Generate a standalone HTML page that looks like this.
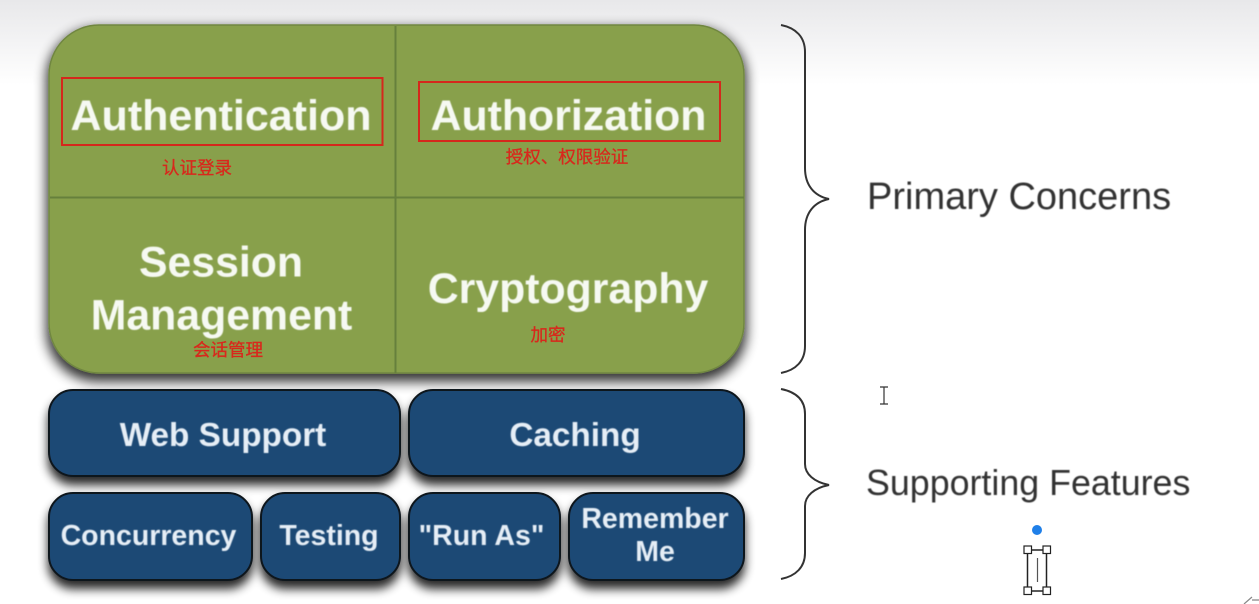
<!DOCTYPE html>
<html>
<head>
<meta charset="utf-8">
<style>
html,body{margin:0;padding:0;background:#fff;}
body{width:1259px;height:604px;overflow:hidden;position:relative;}
svg{position:absolute;left:0;top:0;}
text{font-family:"Liberation Sans","Noto Sans CJK SC",sans-serif;}
.w{font-weight:bold;fill:#f6f9f2;text-anchor:middle;}
.b{font-weight:bold;fill:#e6eef6;text-anchor:middle;}
.r{fill:#d8281c;stroke:#d8281c;stroke-width:0.3px;text-anchor:middle;font-size:17.5px;font-family:"Noto Sans CJK SC","Liberation Sans",sans-serif;}
.d{fill:#333;}
</style>
</head>
<body>
<svg width="1259" height="604" viewBox="0 0 1259 604" xmlns="http://www.w3.org/2000/svg">
<defs>
<linearGradient id="top" x1="0" y1="0" x2="0" y2="1">
<stop offset="0" stop-color="#e8e8ea"/>
<stop offset="1" stop-color="#ffffff"/>
</linearGradient>
<filter id="s" x="-10%" y="-10%" width="120%" height="125%">
<feMorphology in="SourceAlpha" operator="dilate" radius="2"/>
<feGaussianBlur stdDeviation="6"/>
<feOffset dx="0" dy="6"/>
<feComponentTransfer><feFuncA type="linear" slope="0.8"/></feComponentTransfer>
<feMerge><feMergeNode/><feMergeNode in="SourceGraphic"/></feMerge>
</filter>
<filter id="s2" x="-10%" y="-15%" width="120%" height="140%">
<feGaussianBlur in="SourceAlpha" stdDeviation="5"/>
<feOffset dx="0" dy="8"/>
<feComponentTransfer><feFuncA type="linear" slope="0.85"/></feComponentTransfer>
<feMerge><feMergeNode/><feMergeNode in="SourceGraphic"/></feMerge>
</filter>
<filter id="soft"><feGaussianBlur stdDeviation="0.6"/></filter>
</defs>

<rect x="0" y="0" width="1259" height="85" fill="url(#top)"/>

<rect x="49" y="25" width="695" height="348" rx="50" ry="50" fill="#88a04c" stroke="#6f8640" stroke-width="1.5" filter="url(#s)"/>
<line x1="395.500" y1="26" x2="395.500" y2="373" stroke="#66803c" stroke-width="2"/>
<line x1="50" y1="197.500" x2="744" y2="197.500" stroke="#66803c" stroke-width="2"/>

<g filter="url(#soft)">
<text class="w" x="221" y="130" font-size="43">Authentication</text>
<text class="w" x="568.500" y="130" font-size="42.800">Authorization</text>
<text class="w" x="221" y="276.500" font-size="42.800">Session</text>
<text class="w" x="221.500" y="329.500" font-size="42.800">Management</text>
<text class="w" x="568" y="303" font-size="42.800">Cryptography</text>
</g>

<rect x="62" y="78" width="320.500" height="67" fill="none" stroke="#d5281c" stroke-width="2"/>
<rect x="419" y="82" width="301" height="59" fill="none" stroke="#d5281c" stroke-width="2"/>

<text class="r" x="197" y="174">认证登录</text>
<text class="r" x="567" y="163">授权、权限验证</text>
<text class="r" x="228" y="356">会话管理</text>
<text class="r" x="548" y="341">加密</text>

<g fill="#1d4875" stroke="#10151c" stroke-width="2" filter="url(#s2)">
<rect x="49" y="390" width="351" height="86" rx="24"/>
<rect x="409" y="390" width="335" height="86" rx="24"/>
<rect x="49" y="493" width="203" height="87" rx="24"/>
<rect x="261" y="493" width="139" height="87" rx="24"/>
<rect x="409" y="493" width="151" height="87" rx="24"/>
<rect x="569" y="493" width="175" height="87" rx="24"/>
</g>

<g filter="url(#soft)">
<text class="b" x="223" y="446" font-size="33.300">Web Support</text>
<text class="b" x="575" y="446" font-size="33.300">Caching</text>
<text class="b" x="148.500" y="545" font-size="28.500">Concurrency</text>
<text class="b" x="329" y="545" font-size="28.500">Testing</text>
<text class="b" x="481.500" y="545" font-size="28.500">"Run As"</text>
<text class="b" x="655" y="528" font-size="28.500">Remember</text>
<text class="b" x="655" y="561" font-size="28.500">Me</text>
</g>

<g fill="none" stroke="#333" stroke-width="2">
<path d="M781 25 C796 28 805 37 805 52 L805 168 C805 185 814 196 829 199 C814 202 805 213 805 230 L805 346 C805 361 796 370 781 373"/>
<path d="M781 389 C796 392 805 400 805 414 L805 464 C805 474 814 482 829 485 C814 488 805 496 805 506 L805 553 C805 567 796 576 781 579"/>
</g>

<g filter="url(#soft)">
<text class="d" x="867" y="209" font-size="38">Primary Concerns</text>
<text class="d" x="866" y="495" font-size="35.800">Supporting Features</text>
</g>

<path d="M880 387 H888 M884 387 V404 M880 404 H888" fill="none" stroke="#333" stroke-width="1.200"/>

<circle cx="1037" cy="530" r="5" fill="#1f7fe8"/>
<rect x="1027.500" y="550" width="19" height="41" fill="#fff" stroke="#222" stroke-width="1.500"/>
<line x1="1037.500" y1="558" x2="1037.500" y2="582" stroke="#555" stroke-width="1.200"/>
<g fill="#fff" stroke="#222" stroke-width="1.200">
<rect x="1024" y="546" width="7.500" height="7.500"/>
<rect x="1043" y="546" width="7.500" height="7.500"/>
<rect x="1024" y="587" width="7.500" height="7.500"/>
<rect x="1043" y="587" width="7.500" height="7.500"/>
</g>
<path d="M1244 604 L1252 597 M1252 600 H1259" fill="none" stroke="#888" stroke-width="1.200"/>
</svg>
</body>
</html>
